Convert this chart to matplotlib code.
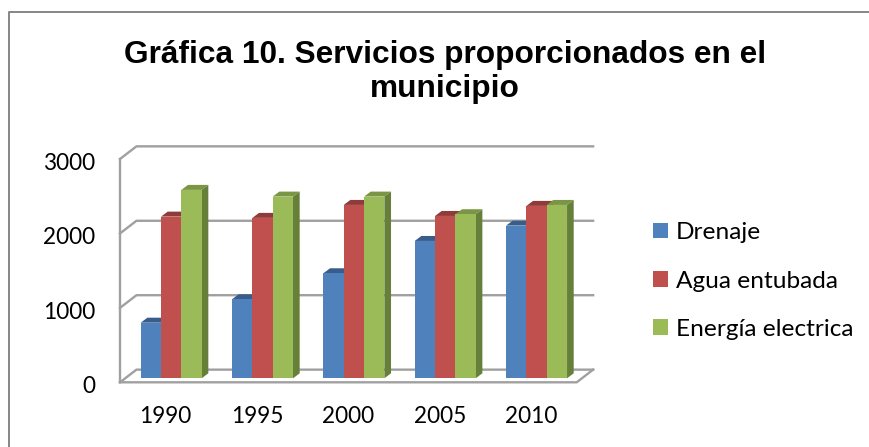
import matplotlib
matplotlib.use("Agg")
import matplotlib.pyplot as plt
from matplotlib.patches import Polygon
from matplotlib.lines import Line2D
from matplotlib.transforms import ScaledTranslation

years = ["1990", "1995", "2000", "2005", "2010"]
drenaje = [747, 1062, 1411, 1845, 2051]
agua = [2172, 2155, 2329, 2181, 2316]
energia = [2531, 2441, 2441, 2204, 2329]
y_ticks = [0, 1000, 2000, 3000]

W, H = 870, 447
fig = plt.figure(figsize=(W / 100, H / 100), dpi=100)
plt.rcParams['font.family'] = ['Lato', 'DejaVu Sans']

# chart border, only left and top are inside the picture
fig.add_artist(Line2D([9.5 / W, 9.5 / W, 1], [0, 1 - 12 / H, 1 - 12 / H], transform=fig.transFigure,
                      color='#868686', linewidth=1.4))

fig.text(445 / W, 1 - 72 / H, "Gráfica 10. Servicios proporcionados en el\nmunicipio",
         ha='center', va='center', fontsize=22.8, fontweight='bold',
         family='Liberation Sans', linespacing=1.14)

# axes = front plane of the 3d box
ax = fig.add_axes([120 / W, 1 - 382.3 / H, 456.7 / W, 223.3 / H])
ax.set_xlim(0, 5)
ax.set_ylim(0, 3000)
for s in ax.spines.values():
    s.set_visible(False)
ax.patch.set_visible(False)

grid_c = '#a0a0a0'
dx, dy = 0.18, 170   # depth of the box
for v in y_ticks:
    ax.plot([0, dx, 5 + dx], [v, v + dy, v + dy], color=grid_c, lw=1.7, clip_on=False, zorder=1)
ax.plot([0, 0], [0, 3000], color=grid_c, lw=1.7, clip_on=False, zorder=1)
ax.plot([0, 5, 5 + dx], [0, 0, dy], color=grid_c, lw=1.7, clip_on=False, zorder=1)

series = [
    ("Drenaje", drenaje, '#4f81bd', '#385d8a', '#2f4f78'),
    ("Agua entubada", agua, '#c0504d', '#8e3b39', '#7b3230'),
    ("Energía electrica", energia, '#9bbb59', '#7a9544', '#66803a'),
]
bar_w = 0.2225
start = 0.2267
base = 54        # bars stand a little behind the front edge
bx, by = 0.073, 67

for i, (name, vals, col, top_c, side_c) in enumerate(series):
    for j, v in enumerate(vals):
        x0 = j + start + i * bar_w
        x1 = x0 + bar_w
        top = base + v
        ax.add_patch(Polygon([(x0, top), (x1, top), (x1 + bx, top + by), (x0 + bx, top + by)],
                             facecolor=top_c, edgecolor='none', zorder=2 + i, clip_on=False))
        ax.add_patch(Polygon([(x1, base), (x1 + bx, base + by), (x1 + bx, top + by), (x1, top)],
                             facecolor=side_c, edgecolor='none', zorder=2 + i, clip_on=False))
    ax.bar([j + start + i * bar_w for j in range(5)], vals, bottom=base, width=bar_w, align='edge',
           color=col, edgecolor='none', zorder=2 + i, label=name, clip_on=False)

ax.set_xticks([j + 0.5 for j in range(5)])
ax.set_xticklabels(years)
ax.set_yticks(y_ticks)
ax.tick_params(axis='both', length=0, labelsize=16.3, colors='black')
ax.tick_params(axis='x', pad=17)
ax.tick_params(axis='y', pad=18)
shift = ScaledTranslation(0, -2.5 / 100, fig.dpi_scale_trans)
for t in ax.get_yticklabels():
    t.set_transform(t.get_transform() + shift)

ax.legend(loc='center left', bbox_to_anchor=(653 / W, 1 - 281 / H), bbox_transform=fig.transFigure,
          frameon=False, fontsize=17.6, handlelength=0.61, handleheight=0.61, handletextpad=0.33,
          labelspacing=1.12, borderpad=0, borderaxespad=0)

fig.savefig("out.png", dpi=100)
